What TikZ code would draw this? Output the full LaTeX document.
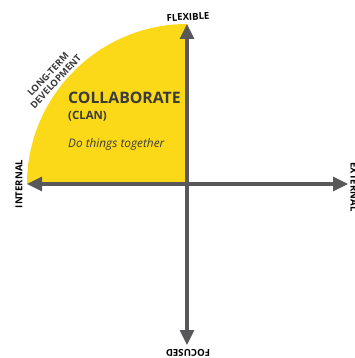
\documentclass[tikz,border=0pt]{standalone}
\usepackage{fontspec}
\setmainfont{Open Sans}
\usetikzlibrary{arrows.meta}
\definecolor{quad}{HTML}{FBD918}
\definecolor{axis}{HTML}{58585A}
\definecolor{ink}{HTML}{3A3A3C}
\tikzset{
  axisline/.style={draw=axis,line width=3.1pt,-{Triangle[length=15pt,width=14pt]}},
  axislabel/.style={font=\bfseries\fontsize{9.6}{11}\selectfont,text=black,inner sep=0pt},
  cornerlabel/.style={font=\bfseries\fontsize{9.4}{10.5}\selectfont,text=ink,inner sep=0pt,align=center,rotate=47}
}
\begin{document}
\begin{tikzpicture}[x=1pt,y=-1pt]
\useasboundingbox (0,0) rectangle (355,358);
\clip (0,0) rectangle (355,358);
\coordinate (centre) at (187,184);
\coordinate (west) at (27,184);
\coordinate (east) at (348,184);
\coordinate (north) at (187,24);
\coordinate (south) at (187,345);
\fill[quad] (west) .. controls (27,96) and (99,24) .. (north) -- (centre) -- cycle;
\draw[axisline] (centre) -- (north);
\draw[axisline] (centre) -- (south);
\draw[axisline] (centre) -- (west);
\draw[axisline] (centre) -- (east);
\node[axislabel,rotate=3] (flex) at (188,17) {FLEXIBLE};
\node[axislabel,rotate=90] (int) at (19,184) {INTERNAL};
\node[axislabel,rotate=-90] (ext) at (354,187) {EXTERNAL};
\node[axislabel,rotate=180] (foc) at (188,353) {FOCUSED};
\node[cornerlabel] (ltd) at (52,78) {LONG-TERM\\DEVELOPMENT};
\node[anchor=west,inner sep=0pt,text=ink,font=\bfseries\fontsize{15.8}{18}\selectfont] (col) at (68,98) {COLLABORATE};
\node[anchor=west,inner sep=0pt,text=ink,font=\bfseries\fontsize{11.4}{13}\selectfont] (clan) at (68,116) {(CLAN)};
\node[anchor=west,inner sep=0pt,text=ink,font=\itshape\fontsize{11.8}{14}\selectfont] (do) at (68,144) {Do things together};
\end{tikzpicture}
\end{document}
